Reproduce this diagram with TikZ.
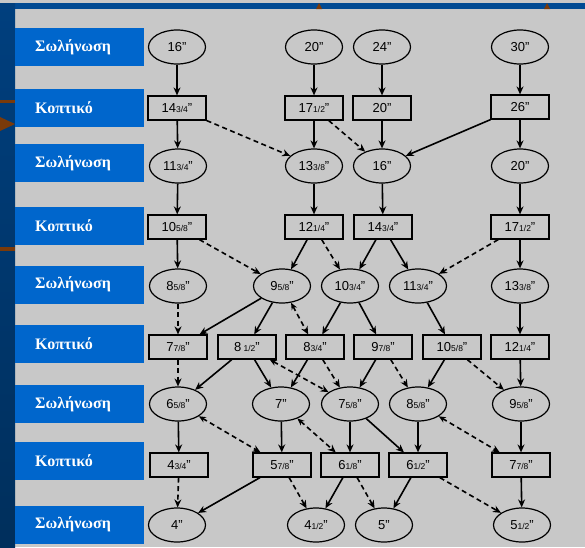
\documentclass[tikz,border=0pt]{standalone}
\usepackage{fontspec}
\setsansfont{Liberation Sans}
\newfontfamily\greekfont{Liberation Serif}
\usetikzlibrary{shapes.geometric,arrows.meta}
\definecolor{bandblue}{HTML}{004A93}
\definecolor{striptop}{HTML}{003F7E}
\definecolor{stripbot}{HTML}{002F5C}
\definecolor{labelblue}{HTML}{0066CC}
\definecolor{panelgray}{HTML}{C8C8C8}
\definecolor{markbrown}{HTML}{7A3A0A}
% size with a small fraction: \sz{14}{3/4} -> 14 3/4"
\newcommand{\sz}[2]{#1{\fontsize{8.5}{8.5}\selectfont#2}"}

\begin{document}
\begin{tikzpicture}[x=1pt,y=-1pt,
    tube/.style={ellipse,draw,line width=1.2pt,minimum width=57pt,
        minimum height=34pt,inner sep=0pt,
        font=\sffamily\fontsize{13}{13}\selectfont},
    cut/.style={rectangle,draw,line width=1.2pt,minimum width=58pt,
        minimum height=24pt,inner sep=0pt,
        font=\sffamily\fontsize{13}{13}\selectfont},
    pass/.style={line width=1.6pt,-{Stealth[length=8pt,width=7pt]}},
    alt/.style={pass,dash pattern=on 5pt off 3.5pt},
    both/.style={alt,{Stealth[length=7pt,width=6pt]}-{Stealth[length=8pt,width=7pt]}},
    stage/.style={fill=labelblue,anchor=west,minimum height=38pt,
        text width=89pt,inner xsep=20pt,align=left,text=white,
        font=\greekfont\bfseries\fontsize{16}{16}\selectfont}]

    % frame
    \useasboundingbox (0,0) rectangle (585,547);
    \fill[panelgray] (0,0) rectangle (585,547);
    \fill[bandblue] (0,3) rectangle (585,9);
    \shade[top color=striptop,bottom color=stripbot] (0,3) rectangle (15,547);
    \fill[markbrown] (316,9) -- (319,3) -- (322,9) -- cycle;
    \fill[markbrown] (544,9) -- (547,3) -- (550,9) -- cycle;
    \fill[markbrown] (0,100) rectangle (15,103);
    \fill[markbrown] (0,117) -- (15,124) -- (0,131) -- cycle;
    \fill[markbrown] (0,247) rectangle (15,251);

    % stage labels
    \foreach \y/\txt [count=\i] in {47/Σωλήνωση,107.5/Κοπτικό,163/Σωλήνωση,
        226/Κοπτικό,284.5/Σωλήνωση,344/Κοπτικό,404/Σωλήνωση,
        460.5/Κοπτικό,524.5/Σωλήνωση}
        \node[stage] (lab\i) at (15,\y) {\txt};

    % row 1
    \node[tube] (e11) at (177,47) {16"};
    \node[tube] (e12) at (314,47) {20"};
    \node[tube] (e13) at (382,47) {24"};
    \node[tube] (e14) at (520,47) {30"};
    % row 2
    \node[cut] (b21) at (177,108) {\sz{14}{3/4}};
    \node[cut] (b22) at (314,108) {\sz{17}{1/2}};
    \node[cut] (b23) at (382,108) {20"};
    \node[cut] (b24) at (520,107) {26"};
    % row 3
    \node[tube] (e31) at (178,166) {\sz{11}{3/4}};
    \node[tube] (e32) at (314,166) {\sz{13}{3/8}};
    \node[tube] (e33) at (382,166) {16"};
    \node[tube] (e34) at (520,166) {20"};
    % row 4
    \node[cut] (b41) at (177,227) {\sz{10}{5/8}};
    \node[cut] (b42) at (314,227) {\sz{12}{1/4}};
    \node[cut] (b43) at (383,227) {\sz{14}{3/4}};
    \node[cut] (b44) at (520,227) {\sz{17}{1/2}};
    % row 5
    \node[tube] (e51) at (178,286) {\sz{8}{5/8}};
    \node[tube] (e52) at (282,286) {\sz{9}{5/8}};
    \node[tube] (e53) at (350,286) {\sz{10}{3/4}};
    \node[tube] (e54) at (418,286) {\sz{11}{3/4}};
    \node[tube] (e55) at (520,286) {\sz{13}{3/8}};
    % row 6
    \node[cut] (b61) at (178,347) {\sz{7}{7/8}};
    \node[cut] (b62) at (247,347) {\sz{8\,}{1/2}};
    \node[cut] (b63) at (315,347) {\sz{8}{3/4}};
    \node[cut] (b64) at (383,347) {\sz{9}{7/8}};
    \node[cut] (b65) at (452,347) {\sz{10}{5/8}};
    \node[cut] (b66) at (520,347) {\sz{12}{1/4}};
    % row 7
    \node[tube] (e71) at (178,404) {\sz{6}{5/8}};
    \node[tube] (e72) at (281,404) {7"};
    \node[tube] (e73) at (350,404) {\sz{7}{5/8}};
    \node[tube] (e74) at (418,404) {\sz{8}{5/8}};
    \node[tube] (e75) at (521,404) {\sz{9}{5/8}};
    % row 8
    \node[cut] (b81) at (179,465) {\sz{4}{3/4}};
    \node[cut] (b82) at (282,465) {\sz{5}{7/8}};
    \node[cut] (b83) at (350,465) {\sz{6}{1/8}};
    \node[cut] (b84) at (418,465) {\sz{6}{1/2}};
    \node[cut] (b85) at (521,465) {\sz{7}{7/8}};
    % row 9
    \node[tube] (e91) at (177,525) {4"};
    \node[tube] (e92) at (316,525) {\sz{4}{1/2}};
    \node[tube] (e93) at (384,525) {5"};
    \node[tube] (e94) at (522,525) {\sz{5}{1/2}};

    % solid passes
    \foreach \a/\b in {e11/b21,e12/b22,e13/b23,e14/b24,
        b21/e31,b22/e32,b23/e33,b24/e33,b24/e34,
        e31/b41,e32/b42,e33/b43,e34/b44,
        b41/e51,b42/e52,b43/e53,b43/e54,b44/e55,
        e52/b61,e52/b62,e53/b63,e53/b64,e54/b65,e55/b66,
        b62/e71,b62/e72,b63/e72,b64/e73,b65/e74,b66/e75,
        e71/b81,e72/b82,e73/b83,e73/b84,e74/b84,e75/b85,
        b82/e91,b83/e92,b84/e93,b85/e94}
        \draw[pass] (\a) -- (\b);

    % dashed passes
    \foreach \a/\b in {b21/e32,b22/e33,b41/e52,b42/e53,b44/e54,
        e51/b61,b61/e71,b63/e73,b64/e74,b65/e75,
        b81/e91,b82/e92,b83/e93,b84/e94}
        \draw[alt] (\a) -- (\b);
    \foreach \a/\b in {e52/b63,b62/e73,e71/b82,e72/b83,e74/b85}
        \draw[both] (\a) -- (\b);

\end{tikzpicture}
\end{document}
